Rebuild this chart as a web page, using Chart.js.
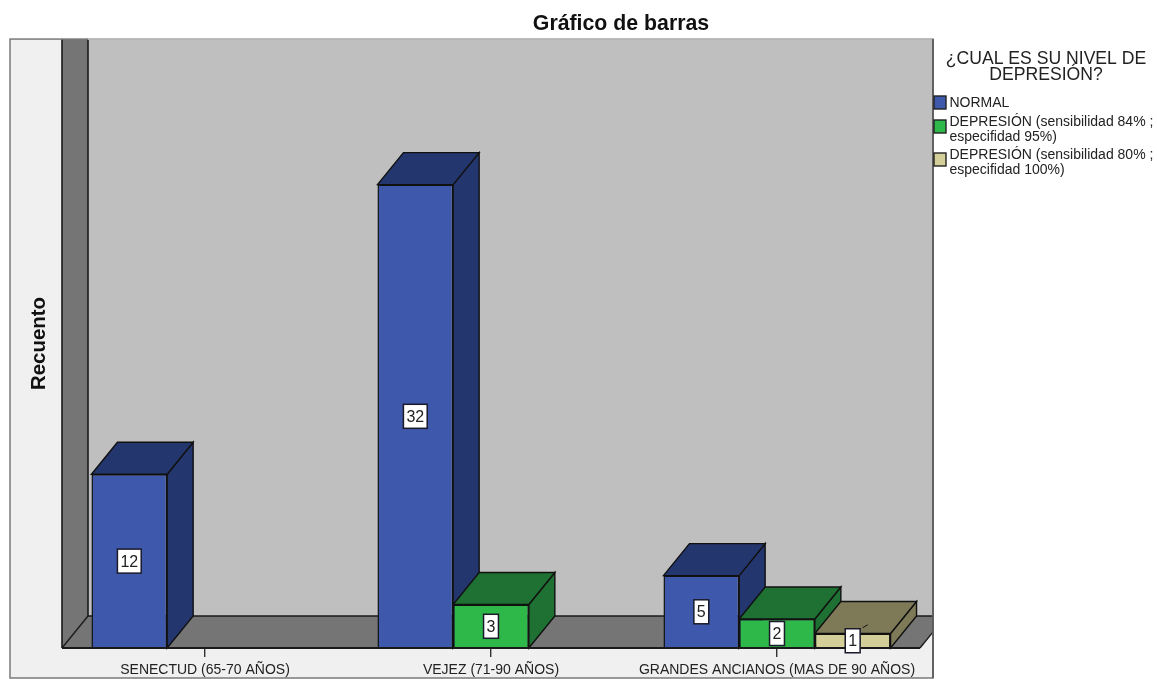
<!DOCTYPE html>
<html>
<head>
<meta charset="utf-8">
<title>Gráfico de barras</title>
<script src="https://cdn.jsdelivr.net/npm/chart.js@4/dist/chart.umd.min.js"></script>
<style>html,body{margin:0;padding:0;background:#fff}canvas{display:block}</style>
</head>
<body>
<canvas id="c" width="1157" height="679"></canvas>
<script>
const categories = ['SENECTUD (65-70 AÑOS)', 'VEJEZ (71-90 AÑOS)', 'GRANDES ANCIANOS (MAS DE 90 AÑOS)'];
const normal = [12, 32, 5];
const depresion84 = [null, 3, 2];
const depresion80 = [null, null, 1];
const seriesNames = ['NORMAL', 'DEPRESIÓN (sensibilidad 84% ; especifidad 95%)', 'DEPRESIÓN (sensibilidad 80% ; especifidad 100%)'];
const legendLines = [['NORMAL'], ['DEPRESIÓN (sensibilidad 84% ;', 'especifidad 95%)'], ['DEPRESIÓN (sensibilidad 80% ;', 'especifidad 100%)']];
const legendTitle = ['¿CUAL ES SU NIVEL DE', 'DEPRESIÓN?'];
const frontColors = ['#3e58ac', '#2eb84a', '#d4cf98'];
const shadeColors = ['#24366e', '#1e7132', '#7e7a58'];

const DX = 26, DY = 32;
const FONT = '"Liberation Sans", Arial, sans-serif';
Chart.defaults.font.family = FONT;

function poly(ctx, pts, fill, stroke, lw) {
  ctx.beginPath();
  pts.forEach((p, i) => i ? ctx.lineTo(p[0], p[1]) : ctx.moveTo(p[0], p[1]));
  ctx.closePath();
  if (fill) { ctx.fillStyle = fill; ctx.fill(); }
  if (stroke) { ctx.strokeStyle = stroke; ctx.lineWidth = lw || 1.5; ctx.stroke(); }
}
function seg(ctx, x1, y1, x2, y2, color, lw) {
  ctx.beginPath(); ctx.moveTo(x1, y1); ctx.lineTo(x2, y2);
  ctx.strokeStyle = color; ctx.lineWidth = lw; ctx.stroke();
}

const scene3d = {
  id: 'scene3d',
  afterLayout(chart) {
    chart.titleBlock.left = 85;
    chart.titleBlock.right = 1157;
  },
  beforeDraw(chart) {
    const ctx = chart.ctx, a = chart.chartArea;
    const L = a.left, R = a.right, T = a.top, B = a.bottom;
    const frame = { x: 10, y: T, r: 933, b: 678 };
    ctx.save();
    ctx.fillStyle = '#f0f0f0';
    ctx.fillRect(frame.x, frame.y, frame.r - frame.x, frame.b - frame.y);
    ctx.beginPath();
    ctx.rect(frame.x, frame.y, frame.r - frame.x, frame.b - frame.y);
    ctx.clip();
    poly(ctx, [[L + DX, T], [R + DX, T], [R + DX, B - DY], [L + DX, B - DY]], '#bfbfbf');
    poly(ctx, [[L, T], [L + DX, T], [L + DX, B - DY], [L, B]], '#757575');
    poly(ctx, [[L, B], [L + DX, B - DY], [R + DX, B - DY], [R, B]], '#757575');
    seg(ctx, L, T, L, B, '#1a1a1a', 1.6);
    seg(ctx, L + DX, T, L + DX, B - DY, '#1a1a1a', 1.6);
    seg(ctx, L + DX, B - DY, R + DX, B - DY, '#1a1a1a', 1.6);
    seg(ctx, L, B, L + DX, B - DY, '#1a1a1a', 1.4);
    seg(ctx, R, B, R + DX, B - DY, '#1a1a1a', 1.4);
    ctx.restore();
    ctx.save();
    ctx.strokeStyle = '#7a7a7a'; ctx.lineWidth = 1.5;
    ctx.strokeRect(frame.x, frame.y, frame.r - frame.x, frame.b - frame.y);
    seg(ctx, L + DX, frame.y, frame.r, frame.y, '#c6c6c6', 1.5);
    seg(ctx, frame.r, frame.y, frame.r, frame.b, '#555', 1.6);
    ctx.restore();
  },
  beforeDatasetsDraw(chart) {
    const ctx = chart.ctx;
    ctx.save();
    const items = [];
    chart.data.datasets.forEach((ds, d) => {
      chart.getDatasetMeta(d).data.forEach((bar, i) => {
        if (ds.data[i] != null) items.push({ bar, d });
      });
    });
    items.sort((p, q) => p.bar.x - q.bar.x);
    items.forEach(({ bar, d }) => {
      const l = bar.x - bar.width / 2, r = bar.x + bar.width / 2, t = bar.y, b = bar.base;
      poly(ctx, [[r, t], [r + DX, t - DY], [r + DX, b - DY], [r, b]], shadeColors[d], '#111', 1.4);
      poly(ctx, [[l, t], [l + DX, t - DY], [r + DX, t - DY], [r, t]], shadeColors[d], '#111', 1.4);
    });
    ctx.restore();
  },
  afterDatasetsDraw(chart) {
    const ctx = chart.ctx, a = chart.chartArea;
    ctx.save();
    seg(ctx, a.left, a.bottom, a.right, a.bottom, '#1a1a1a', 1.8);
    ctx.font = '16px ' + FONT;
    ctx.textAlign = 'center';
    ctx.textBaseline = 'middle';
    chart.data.datasets.forEach((ds, d) => {
      chart.getDatasetMeta(d).data.forEach((bar, i) => {
        const v = ds.data[i];
        if (v == null) return;
        const cy = (bar.y + bar.base) / 2;
        const s = String(v);
        const w = ctx.measureText(s).width + 6, h = 24;
        if (h > bar.base - bar.y) seg(ctx, bar.x + 10, cy - 13, bar.x + 15, cy - 16, '#111', 1);
        ctx.fillStyle = '#fff';
        ctx.fillRect(bar.x - w / 2, cy - h / 2, w, h);
        ctx.strokeStyle = '#1a1a2a'; ctx.lineWidth = 1.5;
        ctx.strokeRect(bar.x - w / 2, cy - h / 2, w, h);
        ctx.fillStyle = '#222';
        ctx.fillText(s, bar.x, cy + 1);
      });
    });
    ctx.fillStyle = '#222';
    ctx.font = '17.6px ' + FONT;
    legendTitle.forEach((t, i) => ctx.fillText(t, 1046, 59 + i * 16.5));
    ctx.textAlign = 'left';
    ctx.font = '14px ' + FONT;
    const ys = [103.5, 122.5, 155.5];
    const boxY = [96, 120, 153];
    legendLines.forEach((lines, d) => {
      ctx.fillStyle = frontColors[d];
      ctx.fillRect(934, boxY[d], 12, 13);
      ctx.strokeStyle = '#222'; ctx.lineWidth = 1.4;
      ctx.strokeRect(934, boxY[d], 12, 13);
      ctx.fillStyle = '#222';
      lines.forEach((t, i) => ctx.fillText(t, 949.5, ys[d] + i * 14.5));
    });
    ctx.restore();
  }
};

new Chart(document.getElementById('c'), {
  type: 'bar',
  data: {
    labels: categories,
    datasets: [normal, depresion84, depresion80].map((values, d) => ({
      label: seriesNames[d],
      data: values,
      backgroundColor: frontColors[d],
      borderColor: '#111',
      borderWidth: 1.5,
      barPercentage: 1,
      categoryPercentage: 0.794
    }))
  },
  plugins: [scene3d],
  options: {
    responsive: false,
    animation: false,
    layout: { padding: { left: 0, right: 237, top: 0, bottom: 0 } },
    plugins: {
      legend: { display: false },
      tooltip: { enabled: false },
      title: {
        display: true,
        text: 'Gráfico de barras',
        color: '#111',
        font: { size: 21.3, weight: 'bold', lineHeight: 1.2 },
        padding: { top: 11, bottom: 2.5 }
      }
    },
    scales: {
      x: {
        grid: { offset: false, drawOnChartArea: false, drawTicks: true, tickLength: 9, color: '#333', lineWidth: 1.4 },
        border: { display: false },
        ticks: { color: '#222', font: { size: 14 }, padding: 4.5, maxRotation: 0, autoSkip: false },
        afterFit(scale) { scale.height = 31; }
      },
      y: {
        min: 0,
        max: 42.05,
        grid: { display: false },
        border: { display: false },
        ticks: { display: false },
        title: {
          display: true,
          text: 'Recuento',
          color: '#111',
          font: { size: 20.4, weight: 'bold', lineHeight: 1.2 },
          padding: { top: 27, bottom: 0 }
        },
        afterFit(scale) { scale.width = 62; }
      }
    }
  }
});
</script>
</body>
</html>
